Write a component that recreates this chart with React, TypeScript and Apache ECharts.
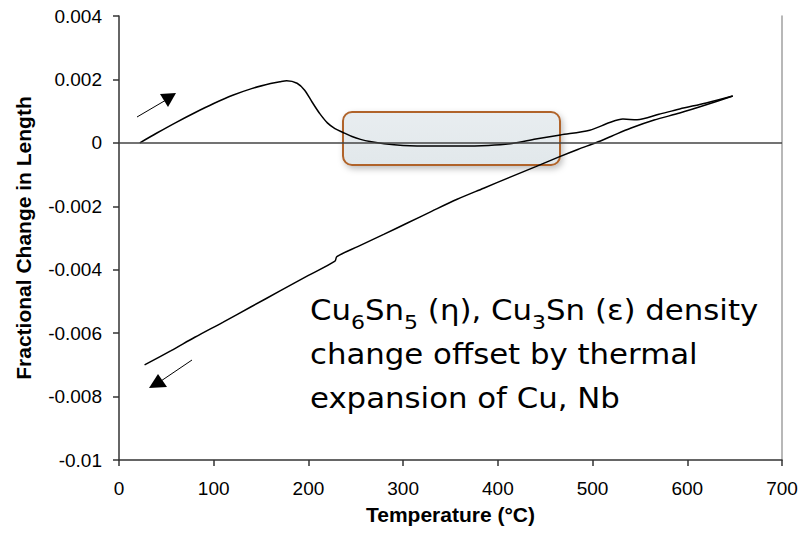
import React, { useEffect, useRef } from "react";
import * as echarts from "echarts";

// Heating run (upper branch), temperature in °C and fractional change in length
const heatTemp = [22, 40, 60, 80, 100, 120, 140, 160, 170, 177, 188, 196, 204, 212, 220, 228, 237, 246, 255, 265, 280, 300, 330, 360, 390, 415, 440, 466, 497, 518, 532, 547, 570, 592, 620, 648];
const heatVal = [0, 0.00031, 0.00064, 0.00095, 0.00124, 0.0015, 0.00171, 0.00187, 0.00193, 0.00196, 0.00188, 0.00166, 0.00128, 0.00092, 0.00063, 0.00045, 0.00032, 0.0002, 0.00011, 0.00004, -0.00003, -0.00008, -0.0001, -0.0001, -0.00008, -0.00002, 0.00012, 0.00025, 0.0004, 0.00064, 0.00075, 0.00073, 0.0009, 0.00107, 0.00126, 0.00148];

// Cooling run (lower branch)
const coolTemp = [648, 620, 592, 565, 540, 520, 504, 485, 464, 440, 413, 385, 357, 330, 305, 280, 252, 230, 228, 200, 170, 140, 110, 80, 55, 27];
const coolVal = [0.00148, 0.0012, 0.00094, 0.00072, 0.00046, 0.00021, 0.00001, -0.0002, -0.00045, -0.00075, -0.00108, -0.00143, -0.00178, -0.00216, -0.00252, -0.00288, -0.00327, -0.00359, -0.00373, -0.00418, -0.00467, -0.00516, -0.00565, -0.00613, -0.00655, -0.007];

const xTicks = [0, 100, 200, 300, 400, 500, 600, 700];
const yTicks = [0.004, 0.002, 0, -0.002, -0.004, -0.006, -0.008, -0.01];

const xTitle = "Temperature (°C)";
const yTitle = "Fractional Change in Length";

export default function App() {
  const ref = useRef<HTMLDivElement>(null);
  useEffect(() => {
    if (!ref.current) return;
    const chart = echarts.init(ref.current, undefined, { renderer: "svg" });
    const heat = heatTemp.map((t, i) => [t, heatVal[i]]);
    const cool = coolTemp.map((t, i) => [t, coolVal[i]]);
    const fmtY = (v: number) => {
      const r = Math.round(v * 1000) / 1000;
      if (r === 0) return "0";
      if (r === -0.01) return "-0.01";
      return r.toFixed(3);
    };
    chart.setOption({
      animation: false,
      backgroundColor: "#ffffff",
      grid: { left: 119, right: 19, top: 16, bottom: 76, outerBoundsMode: "none" },
      xAxis: {
        type: "value",
        min: xTicks[0],
        max: xTicks[xTicks.length - 1],
        interval: 100,
        name: xTitle,
        nameLocation: "middle",
        nameGap: 44,
        nameTextStyle: { fontFamily: "Liberation Sans", fontWeight: "bold", fontSize: 21, color: "#000" },
        axisLine: { show: true, onZero: false, lineStyle: { color: "#333", width: 1.5 } },
        axisTick: { show: true, length: 6, lineStyle: { color: "#333", width: 1.5 } },
        axisLabel: { fontFamily: "Liberation Sans", fontSize: 19, color: "#000", margin: 19 },
        splitLine: { show: false },
      },
      yAxis: [
        {
          type: "value",
          min: yTicks[yTicks.length - 1],
          max: yTicks[0],
          interval: 0.002,
          name: yTitle,
          nameLocation: "middle",
          nameGap: 85,
          nameTextStyle: { fontFamily: "Liberation Sans", fontWeight: "bold", fontSize: 21, color: "#000" },
          axisLine: { show: true, onZero: false, lineStyle: { color: "#333", width: 1.5 } },
          axisTick: { show: true, length: 6, lineStyle: { color: "#333", width: 1.5 } },
          axisLabel: { fontFamily: "Liberation Sans", fontSize: 19, color: "#000", margin: 17, formatter: fmtY },
          splitLine: { show: false },
        },
        {
          type: "value",
          position: "right",
          min: yTicks[yTicks.length - 1],
          max: yTicks[0],
          interval: 0.002,
          axisLine: { show: true, onZero: false, lineStyle: { color: "#a0a0a0", width: 1.5 } },
          axisTick: { show: false },
          axisLabel: { show: false },
          splitLine: { show: false },
        },
      ],
      graphic: [
        {
          type: "rect",
          z: 0,
          shape: { x: 343, y: 112, width: 217, height: 53, r: 9 },
          style: {
            fill: new echarts.graphic.LinearGradient(0, 0, 0, 1, [
              { offset: 0, color: "#e8edf0" },
              { offset: 1, color: "#e2e8eb" },
            ]),
            stroke: "#b0642a",
            lineWidth: 2,
            shadowBlur: 6,
            shadowOffsetX: 2,
            shadowOffsetY: 3,
            shadowColor: "rgba(0,0,0,0.25)",
          },
        },
        {
          type: "line",
          shape: { x1: 137, y1: 117, x2: 166, y2: 100 },
          style: { stroke: "#000", lineWidth: 1 },
        },
        {
          type: "polygon",
          shape: { points: [[160, 94], [176, 93], [168, 107]] },
          style: { fill: "#000" },
        },
        {
          type: "line",
          shape: { x1: 192, y1: 360, x2: 158, y2: 383 },
          style: { stroke: "#000", lineWidth: 1 },
        },
        {
          type: "polygon",
          shape: { points: [[149, 388], [158, 374], [167, 387]] },
          style: { fill: "#000" },
        },
        {
          type: "text",
          x: 310,
          y: 288,
          z: 10,
          scaleX: 1.1,
          style: {
            text:
              "Cu{sub|6}Sn{sub|5} (η), Cu{sub|3}Sn (ε) density\nchange offset by thermal\nexpansion of Cu, Nb",
            fontFamily: "DejaVu Sans",
            fontSize: 28,
            lineHeight: 44,
            fill: "#000",
            rich: {
              sub: { fontFamily: "DejaVu Sans", fontSize: 20, verticalAlign: "bottom", lineHeight: 16, fill: "#000" },
            },
          },
        },
      ],
      series: [
        {
          type: "line",
          data: heat,
          showSymbol: false,
          smooth: 0.3,
          lineStyle: { color: "#000", width: 1.5 },
          z: 3,
          markLine: {
            silent: true,
            symbol: "none",
            label: { show: false },
            lineStyle: { color: "#444", width: 1.5, type: "solid" },
            data: [{ yAxis: 0 }],
          },
        },
        {
          type: "line",
          data: cool,
          showSymbol: false,
          smooth: 0.3,
          lineStyle: { color: "#000", width: 1.5 },
          z: 3,
        },
      ],
    });
    return () => chart.dispose();
  }, []);
  return (
    <div
      ref={ref}
      style={{ position: "absolute", left: 0, top: 0, width: 801, height: 536, background: "#fff" }}
    />
  );
}
